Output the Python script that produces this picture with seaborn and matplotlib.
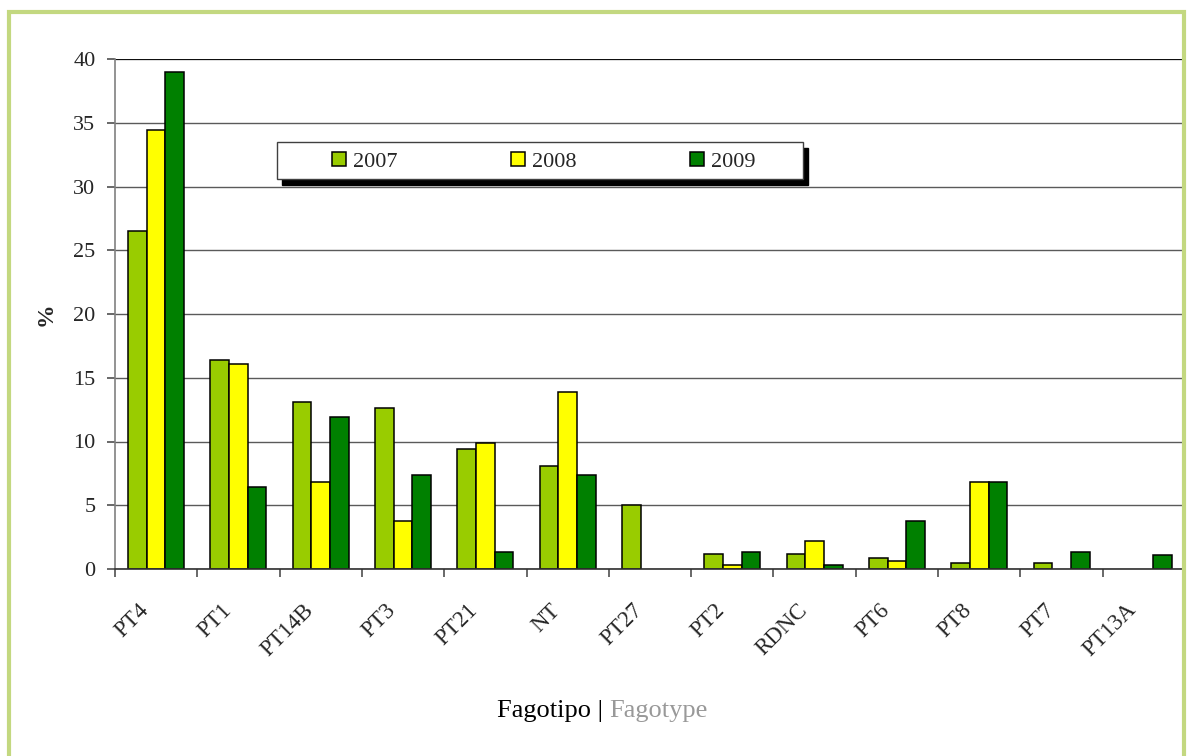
import matplotlib
matplotlib.use("Agg")
import matplotlib.pyplot as plt
import matplotlib.transforms as mtransforms
import seaborn as sns
import pandas as pd
from matplotlib.patches import Rectangle, Patch
from matplotlib.ticker import MultipleLocator, FixedLocator, NullFormatter

categories = ["PT4", "PT1", "PT14B", "PT3", "PT21", "NT", "PT27",
              "PT2", "RDNC", "PT6", "PT8", "PT7", "PT13A"]
years = ["2007", "2008", "2009"]
v2007 = [26.5, 16.4, 13.1, 12.6, 9.4, 8.1, 5.0, 1.2, 1.2, 0.9, 0.5, 0.5, 0.0]
v2008 = [34.4, 16.1, 6.8, 3.8, 9.9, 13.9, 0.0, 0.3, 2.2, 0.6, 6.8, 0.0, 0.0]
v2009 = [39.0, 6.4, 11.9, 7.4, 1.3, 7.4, 0.0, 1.3, 0.3, 3.8, 6.8, 1.3, 1.1]
year_colors = ["#99CC00", "#FFFF00", "#008000"]

rows = []
for yr, vals in zip(years, [v2007, v2008, v2009]):
    for cat, v in zip(categories, vals):
        rows.append({"Fagotipo": cat, "year": yr, "pct": v})
df = pd.DataFrame(rows)

sns.set_theme(style="white")
plt.rcParams["font.family"] = ["Liberation Serif", "DejaVu Serif"]

W, H = 1192, 756
fig = plt.figure(figsize=(W / 100, H / 100), dpi=100)
ax = fig.add_axes([115 / W, 1 - 569 / H, (1185 - 115) / W, (569 - 59) / H])

sns.barplot(data=df, x="Fagotipo", y="pct", hue="year", order=categories,
            hue_order=years, palette=year_colors, width=0.68,
            edgecolor="black", linewidth=1.1, saturation=1, ax=ax, zorder=3,
            legend=False)

# empty categories get no outline
for bar in ax.patches:
    if bar.get_height() == 0:
        bar.set_linewidth(0)

ax.set_xlim(-0.5, len(categories) - 0.5)
ax.set_ylim(0, 40)
ax.yaxis.set_major_locator(MultipleLocator(5))
ax.yaxis.grid(True, color="#5a5a5a", linewidth=1.0, zorder=0)
ax.set_axisbelow(True)
ax.axhline(40, color="black", linewidth=1.2, zorder=1)

for side in ["top", "right"]:
    ax.spines[side].set_visible(False)
ax.spines["left"].set_color("#808080")
ax.spines["left"].set_linewidth(1.2)
ax.spines["bottom"].set_color("#303030")
ax.spines["bottom"].set_linewidth(1.2)
ax.spines["bottom"].set_zorder(4)

# category ticks sit between groups, labels under each group
ax.xaxis.set_minor_locator(FixedLocator([i - 0.5 for i in range(len(categories) + 1)]))
ax.xaxis.set_minor_formatter(NullFormatter())
ax.tick_params(axis="x", which="minor", bottom=True, length=6, width=1.1, color="#404040")
ax.tick_params(axis="x", which="major", bottom=True, length=0, pad=22, labelsize=16.5)
ax.tick_params(axis="y", which="major", left=True, length=6, width=1.1, color="#404040",
               pad=8, labelsize=16)
shift = mtransforms.ScaledTranslation(-0.18, 0, fig.dpi_scale_trans)
for lab in ax.get_xticklabels():
    lab.set_rotation(45)
    lab.set_ha("right")
    lab.set_va("top")
    lab.set_rotation_mode("anchor")
    lab.set_transform(lab.get_transform() + shift)

ax.set_xlabel("")
ax.set_ylabel("%", fontsize=17, fontweight="bold", labelpad=12)

# axis title in two tones
t1 = fig.text(497 / W, 1 - 711 / H, "Fagotipo | ", fontsize=19, color="black",
              ha="left", va="center")
ax.annotate("Fagotype", xycoords=t1, xy=(1, 0), va="bottom", ha="left",
            fontsize=19, color="#999999", annotation_clip=False)

# legend panel with a solid drop shadow
lx0, lx1, ly0, ly1 = 277, 803, 142, 179
fig.patches.append(Rectangle(((lx0 + 5) / W, 1 - (ly1 + 6) / H), (lx1 - lx0) / W,
                             (ly1 - ly0) / H, transform=fig.transFigure,
                             facecolor="black", edgecolor="black", zorder=5))
fig.patches.append(Rectangle((lx0 / W, 1 - ly1 / H), (lx1 - lx0) / W,
                             (ly1 - ly0) / H, transform=fig.transFigure,
                             facecolor="white", edgecolor="#404040", linewidth=1.0,
                             zorder=6))
handles = [Patch(facecolor=c, edgecolor="black", linewidth=1.1) for c in year_colors]
leg = fig.legend(handles, years, loc="center",
                 bbox_to_anchor=(544 / W, 1 - (ly0 + ly1 + 3) / 2 / H),
                 ncol=3, frameon=False, fontsize=16, handlelength=0.63,
                 handleheight=0.63, handletextpad=0.32, columnspacing=5.1)
leg.set_zorder(7)

# light green outer frame
fig.patches.append(Rectangle((9 / W, -0.05), (1184 - 9) / W, 1.05 - 12 / H,
                             transform=fig.transFigure, facecolor="none",
                             edgecolor="#C3D880", linewidth=3.0, zorder=10))

fig.savefig("out.png", dpi=100, facecolor="white")
